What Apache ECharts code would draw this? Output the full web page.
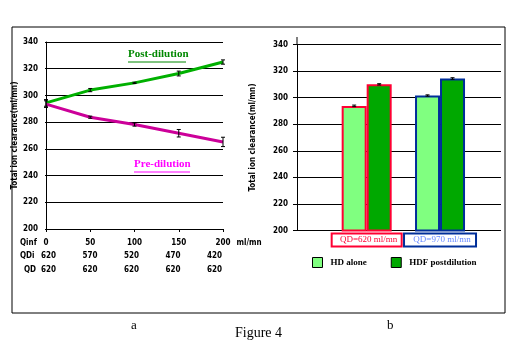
<!DOCTYPE html>
<html><head><meta charset="utf-8">
<script src="https://cdn.jsdelivr.net/npm/echarts@6/dist/echarts.min.js"></script>
<style>html,body{margin:0;padding:0;background:#fff}#c{width:519px;height:359px}</style>
</head><body><div id="c"></div>
<script>
// ---- data ----
const qinf = [0, 50, 100, 150, 200];
const qdiRow = ['620', '570', '520', '470', '420'];
const qdRow = ['620', '620', '620', '620', '620'];
const postDilution = [294.4, 304, 309.4, 316.4, 325];
const postErr = [2.5, 1.2, 0.5, 1.8, 1.6];
const preDilution = [293.5, 283.7, 278.2, 271.7, 265.2];
const preErr = [2.5, 0.8, 1.2, 2.8, 3.5];
const barCats = ['QD=620 ml/mn', 'QD=970 ml/mn'];
const hdAlone = [293.8, 301.6];
const hdAloneErr = [0.6, 0.5];
const hdfPost = [310, 314.4];
const hdfPostErr = [0.5, 0.6];
const yMin = 200, yMax = 340, yStep = 20;

// ---- styles ----
const numFont = '"Liberation Sans Narrow","DejaVu Sans Condensed","Liberation Sans",sans-serif';
const serif = '"Liberation Serif","DejaVu Serif",serif';
const groupBorder = ['#FF0033', '#002E99'];
const groupText = ['#FF0033', '#6688FF'];

const chart = echarts.init(document.getElementById('c'));

function errItem(dx) {
  return function (params, api) {
    const x = api.value(0), y = api.value(1), e = api.value(2);
    const lo = api.coord([x, y - e]), hi = api.coord([x, y + e]);
    const cx = lo[0] + dx;
    const st = { stroke: '#000', lineWidth: 1 };
    return { type: 'group', children: [
      { type: 'line', shape: { x1: cx, y1: lo[1], x2: cx, y2: hi[1] }, style: st },
      { type: 'line', shape: { x1: cx - 2, y1: lo[1], x2: cx + 2, y2: lo[1] }, style: st },
      { type: 'line', shape: { x1: cx - 2, y1: hi[1], x2: cx + 2, y2: hi[1] }, style: st }
    ]};
  };
}

const tick = { fontFamily: numFont, fontSize: 8, fontWeight: 'bold', color: '#000' };

const option = {
  animation: false,
  backgroundColor: '#fff',
  grid: [
    { left: 46, top: 42, width: 177, height: 187 },
    { left: 297, top: 44.5, width: 204, height: 186 },
    { left: 41, top: 240, width: 166, height: 9 },
    { left: 330, top: 44.5, width: 146.7, height: 186 }
  ],
  xAxis: [
    { gridIndex: 0, type: 'value', min: 0, max: 200, interval: 50,
      axisLine: { lineStyle: { color: '#000', width: 1 } },
      axisTick: { show: true, length: 3, lineStyle: { color: '#000' } },
      splitLine: { show: false },
      axisLabel: Object.assign({ margin: 10 }, tick),
      name: 'ml/mn', nameLocation: 'end', nameGap: 2,
      nameTextStyle: Object.assign({ verticalAlign: 'top', padding: [10, 0, 0, 0] }, tick) },
    { gridIndex: 1, type: 'value', min: 0, max: 1, show: false },
    { gridIndex: 2, type: 'value', min: 0, max: 200, interval: 50, position: 'bottom',
      axisLine: { show: false }, axisTick: { show: false }, splitLine: { show: false },
      axisLabel: Object.assign({ margin: 3, align: 'left', formatter: v => qdiRow[qinf.indexOf(v)] }, tick) },
    { gridIndex: 2, type: 'value', min: 0, max: 200, interval: 50, position: 'bottom', offset: 14,
      axisLine: { show: false }, axisTick: { show: false }, splitLine: { show: false },
      axisLabel: Object.assign({ margin: 3, align: 'left', formatter: v => qdRow[qinf.indexOf(v)] }, tick) },
    { gridIndex: 3, type: 'category', data: barCats,
      axisLine: { show: false }, axisTick: { show: false },
      axisLabel: { margin: 3, interval: 0,
        formatter: (v, i) => '{g' + i + '|' + v + '}',
        rich: {
          g0: { fontFamily: serif, fontSize: 9, color: groupText[0], borderColor: groupBorder[0], borderWidth: 2,
                width: 62, height: 11, padding: [1, 2, 1, 6] },
          g1: { fontFamily: serif, fontSize: 9, color: groupText[1], borderColor: groupBorder[1], borderWidth: 2,
                width: 64, height: 11, padding: [1, 2, 1, 6] }
        } } }
  ],
  yAxis: [
    { gridIndex: 0, type: 'value', min: yMin, max: yMax, interval: yStep,
      axisLine: { show: true, lineStyle: { color: '#000' } },
      axisTick: { show: true, length: 1, lineStyle: { color: '#000' } },
      splitLine: { lineStyle: { color: '#000', width: 1 } },
      axisLabel: Object.assign({ margin: 8 }, tick),
      name: 'Total ion clearance(ml/mn)', nameLocation: 'middle', nameGap: 27,
      nameTextStyle: { fontFamily: numFont, fontSize: 8, fontWeight: 'bold', color: '#000' } },
    { gridIndex: 1, type: 'value', min: yMin, max: yMax, interval: yStep,
      axisLine: { show: true, lineStyle: { color: '#000' } },
      axisTick: { show: true, length: 4, lineStyle: { color: '#000' } },
      splitLine: { lineStyle: { color: '#000', width: 1 } },
      axisLabel: Object.assign({ margin: 9 }, tick),
      name: 'Total ion clearance(ml/mn)', nameLocation: 'middle', nameGap: 40,
      nameTextStyle: { fontFamily: numFont, fontSize: 8, fontWeight: 'bold', color: '#000' } },
    { gridIndex: 2, type: 'value', show: false },
    { gridIndex: 3, type: 'value', min: yMin, max: yMax, show: false }
  ],
  legend: {
    data: ['HD alone', 'HDF postdilution'],
    left: 307, top: 252, itemWidth: 10, itemHeight: 10, itemGap: 24,
    icon: 'rect',
    itemStyle: { borderColor: '#000', borderWidth: 1 },
    textStyle: { fontFamily: serif, fontSize: 9, fontWeight: 'bold', color: '#000', padding: [0, 0, 0, 3] }
  },
  series: [
    { type: 'line', name: 'Post-dilution', xAxisIndex: 0, yAxisIndex: 0,
      data: qinf.map((x, i) => [x, postDilution[i]]),
      showSymbol: false, lineStyle: { color: '#00B000', width: 3 }, itemStyle: { color: '#00B000' } },
    { type: 'line', name: 'Pre-dilution', xAxisIndex: 0, yAxisIndex: 0,
      data: qinf.map((x, i) => [x, preDilution[i]]),
      showSymbol: false, lineStyle: { color: '#CC0099', width: 3 }, itemStyle: { color: '#CC0099' } },
    { type: 'custom', xAxisIndex: 0, yAxisIndex: 0, renderItem: errItem(0), clip: false, z: 5,
      data: qinf.map((x, i) => [x, postDilution[i], postErr[i]]) },
    { type: 'custom', xAxisIndex: 0, yAxisIndex: 0, renderItem: errItem(0), clip: false, z: 5,
      data: qinf.map((x, i) => [x, preDilution[i], preErr[i]]) },
    { type: 'bar', name: 'HD alone', xAxisIndex: 4, yAxisIndex: 3, barWidth: 25, barGap: '0%',
      itemStyle: { color: '#80FF80', borderColor: '#000', borderWidth: 2 },
      data: hdAlone.map((v, i) => ({ value: v, itemStyle: { borderColor: groupBorder[i] } })) },
    { type: 'bar', name: 'HDF postdilution', xAxisIndex: 4, yAxisIndex: 3, barWidth: 25, barGap: '0%',
      itemStyle: { color: '#00A800', borderColor: '#000', borderWidth: 2 },
      data: hdfPost.map((v, i) => ({ value: v, itemStyle: { borderColor: groupBorder[i] } })) },
    { type: 'custom', xAxisIndex: 4, yAxisIndex: 3, renderItem: errItem(-12.5), z: 5,
      data: hdAlone.map((v, i) => [i, v, hdAloneErr[i]]) },
    { type: 'custom', xAxisIndex: 4, yAxisIndex: 3, renderItem: errItem(12.5), z: 5,
      data: hdfPost.map((v, i) => [i, v, hdfPostErr[i]]) }
  ],
  graphic: [
    { type: 'rect', shape: { x: 12, y: 27, width: 493, height: 286 }, style: { fill: 'none', stroke: '#000', lineWidth: 1 }, z: -1 },
    { type: 'line', shape: { x1: 297, y1: 37, x2: 297, y2: 45 }, style: { stroke: '#000', lineWidth: 1 } },
    { type: 'text', left: 128, top: 49, style: { text: 'Post-dilution', font: 'bold 11px ' + serif, fill: '#008800' } },
    { type: 'line', shape: { x1: 128, y1: 62, x2: 186, y2: 62 }, style: { stroke: '#008800', lineWidth: 1 } },
    { type: 'text', left: 134, top: 159, style: { text: 'Pre-dilution', font: 'bold 11px ' + serif, fill: '#FF00FF' } },
    { type: 'line', shape: { x1: 134, y1: 172, x2: 190, y2: 172 }, style: { stroke: '#FF00FF', lineWidth: 1 } },
    { type: 'text', left: 20, top: 239, style: { text: 'Qinf', font: 'bold 8px ' + numFont, fill: '#000' } },
    { type: 'text', left: 20, top: 252, style: { text: 'QDi', font: 'bold 8px ' + numFont, fill: '#000' } },
    { type: 'text', left: 24, top: 266, style: { text: 'QD', font: 'bold 8px ' + numFont, fill: '#000' } },
    { type: 'text', left: 131, top: 319, style: { text: 'a', font: '13px ' + serif, fill: '#000' } },
    { type: 'text', left: 387, top: 319, style: { text: 'b', font: '13px ' + serif, fill: '#000' } },
    { type: 'text', left: 235, top: 326, style: { text: 'Figure 4', font: '14px ' + serif, fill: '#000' } }
  ]
};
chart.setOption(option);
</script></body></html>
